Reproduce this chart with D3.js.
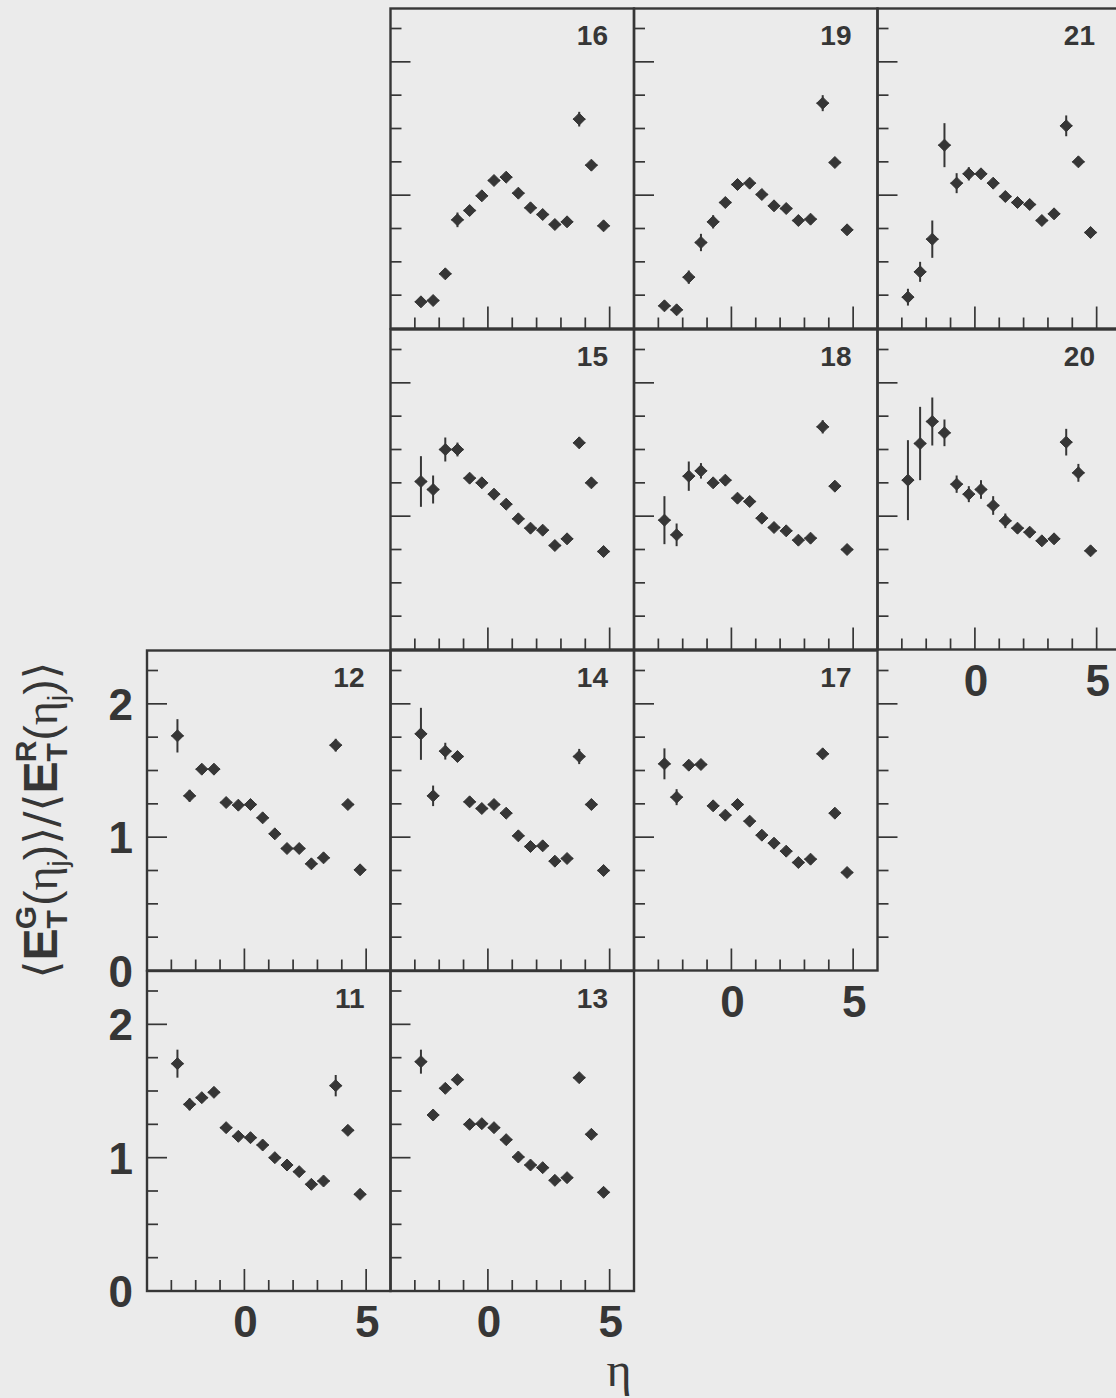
<!DOCTYPE html>
<html>
<head>
<meta charset="utf-8">
<script src="https://cdn.jsdelivr.net/npm/d3@7"></script>
<style>
  html, body { margin: 0; padding: 0; background: #ebebeb; }
  svg { display: block; }
</style>
</head>
<body>
<svg id="chart" width="1116" height="1398"></svg>
<script>
// Bin centres in pseudorapidity (bins of width 0.5)
const etaCenters = [-2.75, -2.25, -1.75, -1.25, -0.75, -0.25, 0.25, 0.75,
                    1.25, 1.75, 2.25, 2.75, 3.25, 3.75, 4.25, 4.75];
const etaHalfWidth = 0.25;

// Ratio <E_T^G>/<E_T^R> per eta bin, with vertical errors, one pair per run
const ratio11 = [1.705, 1.40, 1.45, 1.49, 1.225, 1.16, 1.15, 1.095, 1.00, 0.945, 0.895, 0.80, 0.825, 1.54, 1.205, 0.725];
const err11   = [0.105, 0.045, 0.03, 0.02, 0.015, 0.015, 0.015, 0.015, 0.015, 0.015, 0.015, 0.015, 0.015, 0.08, 0.02, 0.015];
const ratio12 = [1.76, 1.31, 1.51, 1.51, 1.26, 1.24, 1.245, 1.145, 1.025, 0.915, 0.915, 0.80, 0.845, 1.69, 1.245, 0.755];
const err12   = [0.125, 0.045, 0.03, 0.02, 0.015, 0.015, 0.015, 0.015, 0.015, 0.015, 0.015, 0.015, 0.015, 0.048, 0.02, 0.015];
const ratio13 = [1.72, 1.32, 1.52, 1.585, 1.25, 1.255, 1.225, 1.135, 1.005, 0.945, 0.925, 0.83, 0.85, 1.60, 1.175, 0.74];
const err13   = [0.09, 0.03, 0.02, 0.02, 0.015, 0.015, 0.015, 0.015, 0.015, 0.015, 0.015, 0.015, 0.015, 0.03, 0.015, 0.015];
const ratio14 = [1.775, 1.31, 1.645, 1.605, 1.265, 1.215, 1.245, 1.18, 1.01, 0.93, 0.935, 0.82, 0.84, 1.605, 1.245, 0.75];
const err14   = [0.195, 0.077, 0.063, 0.03, 0.015, 0.015, 0.015, 0.015, 0.015, 0.015, 0.015, 0.015, 0.015, 0.057, 0.02, 0.015];
const ratio15 = [1.26, 1.20, 1.50, 1.50, 1.285, 1.25, 1.165, 1.09, 0.98, 0.91, 0.895, 0.78, 0.83, 1.55, 1.25, 0.735];
const err15   = [0.19, 0.105, 0.09, 0.052, 0.02, 0.015, 0.015, 0.015, 0.015, 0.015, 0.015, 0.015, 0.015, 0.04, 0.015, 0.015];
const ratio16 = [0.20, 0.21, 0.41, 0.815, 0.885, 0.995, 1.11, 1.135, 1.015, 0.905, 0.855, 0.78, 0.80, 1.57, 1.225, 0.77];
const err16   = [0.03, 0.02, 0.03, 0.055, 0.03, 0.02, 0.02, 0.02, 0.015, 0.015, 0.015, 0.015, 0.015, 0.055, 0.02, 0.015];
const ratio17 = [1.55, 1.30, 1.54, 1.545, 1.235, 1.165, 1.245, 1.12, 1.015, 0.955, 0.895, 0.81, 0.835, 1.625, 1.18, 0.735];
const err17   = [0.116, 0.06, 0.03, 0.02, 0.015, 0.015, 0.015, 0.015, 0.015, 0.015, 0.015, 0.015, 0.015, 0.025, 0.015, 0.015];
const ratio18 = [0.97, 0.86, 1.30, 1.34, 1.25, 1.27, 1.135, 1.11, 0.985, 0.915, 0.89, 0.82, 0.835, 1.67, 1.225, 0.75];
const err18   = [0.18, 0.085, 0.11, 0.058, 0.02, 0.02, 0.015, 0.015, 0.015, 0.015, 0.015, 0.015, 0.015, 0.05, 0.02, 0.015];
const ratio19 = [0.17, 0.14, 0.385, 0.645, 0.80, 0.945, 1.08, 1.09, 1.005, 0.92, 0.90, 0.81, 0.82, 1.69, 1.245, 0.74];
const err19   = [0.025, 0.02, 0.05, 0.065, 0.05, 0.03, 0.02, 0.02, 0.015, 0.015, 0.015, 0.015, 0.015, 0.06, 0.02, 0.015];
const ratio20 = [1.27, 1.545, 1.71, 1.625, 1.24, 1.165, 1.20, 1.08, 0.965, 0.91, 0.88, 0.815, 0.83, 1.555, 1.325, 0.74];
const err20   = [0.30, 0.275, 0.18, 0.10, 0.065, 0.06, 0.07, 0.07, 0.055, 0.03, 0.02, 0.02, 0.02, 0.10, 0.067, 0.015];
const ratio21 = [0.235, 0.425, 0.67, 1.375, 1.09, 1.16, 1.16, 1.09, 0.99, 0.945, 0.93, 0.81, 0.86, 1.52, 1.25, 0.72];
const err21   = [0.063, 0.075, 0.14, 0.165, 0.075, 0.05, 0.025, 0.02, 0.015, 0.015, 0.015, 0.015, 0.015, 0.078, 0.02, 0.015];

// Axis ticks and labels
const xDomain = [-4, 6];
const yDomain = [0, 2.4];
const xMinorTicks = [-3, -2, -1, 1, 2, 3, 4];
const xMajorTicks = [0, 5];
const yMinorTicks = [0.25, 0.5, 0.75, 1.25, 1.5, 1.75, 2.25];
const yMajorTicks = [1, 2];
const xTickLabels = ["0", "5"];
const yTickLabels = ["0", "1", "2"];

// Zone arrangement: run number, grid column and grid row
const runIds   = ["16", "19", "21", "15", "18", "20", "12", "14", "17", "11", "13"];
const runCol   = [1, 2, 3, 1, 2, 3, 0, 1, 2, 0, 1];
const runRow   = [0, 0, 0, 1, 1, 1, 2, 2, 2, 3, 3];
const runRatio = [ratio16, ratio19, ratio21, ratio15, ratio18, ratio20, ratio12, ratio14, ratio17, ratio11, ratio13];
const runErr   = [err16, err19, err21, err15, err18, err20, err12, err14, err17, err11, err13];

// Panels that carry numeric axis labels
const yLabelled = ["12", "11"];
const xLabelled = ["11", "13", "17", "20"];

// ---- layout ----
const INK = "#363636";
const colLeft = [147, 390.5, 634, 877.5];
const rowTop = [8.5, 329.5, 650.5, 971];
const PW = 243.5, PH = 320;

const svg = d3.select("#chart");
svg.append("rect").attr("width", 1116).attr("height", 1398).attr("fill", "#ebebeb");

const x = d3.scaleLinear().domain(xDomain).range([0, PW]);
const y = d3.scaleLinear().domain(yDomain).range([PH, 0]);

const diamond = r => `M0,${-r}L${r},0L0,${r}L${-r},0Z`;

runIds.forEach((id, k) => {
  const g = svg.append("g")
    .attr("transform", `translate(${colLeft[runCol[k]]},${rowTop[runRow[k]]})`);

  // left axis ticks (inward)
  g.selectAll(".ymin").data(yMinorTicks).join("line")
    .attr("x1", 0).attr("x2", 11).attr("y1", d => y(d)).attr("y2", d => y(d))
    .attr("stroke", INK).attr("stroke-width", 1.7);
  g.selectAll(".ymaj").data(yMajorTicks).join("line")
    .attr("x1", 0).attr("x2", 20).attr("y1", d => y(d)).attr("y2", d => y(d))
    .attr("stroke", INK).attr("stroke-width", 1.7);
  // bottom axis ticks (inward)
  g.selectAll(".xmin").data(xMinorTicks).join("line")
    .attr("x1", d => x(d)).attr("x2", d => x(d)).attr("y1", PH).attr("y2", PH - 11)
    .attr("stroke", INK).attr("stroke-width", 1.7);
  g.selectAll(".xmaj").data(xMajorTicks).join("line")
    .attr("x1", d => x(d)).attr("x2", d => x(d)).attr("y1", PH).attr("y2", PH - 22)
    .attr("stroke", INK).attr("stroke-width", 1.7);

  // frame
  g.append("rect").attr("width", PW).attr("height", PH)
    .attr("fill", "none").attr("stroke", INK).attr("stroke-width", 2.4);

  // run number
  g.append("text").attr("x", PW - 26).attr("y", 36.5)
    .attr("text-anchor", "end")
    .attr("font-family", "Liberation Sans, Arial, sans-serif")
    .attr("font-weight", "bold").attr("font-size", 28)
    .attr("fill", INK).text(id);

  const pts = etaCenters.map((e, i) => ({ eta: e, v: runRatio[k][i], err: runErr[k][i] }));

  // horizontal bin-width bars
  g.selectAll(".hbar").data(pts).join("line")
    .attr("x1", d => x(d.eta - etaHalfWidth)).attr("x2", d => x(d.eta + etaHalfWidth))
    .attr("y1", d => y(d.v)).attr("y2", d => y(d.v))
    .attr("stroke", INK).attr("stroke-width", 1.7);
  // vertical error bars
  g.selectAll(".vbar").data(pts).join("line")
    .attr("x1", d => x(d.eta)).attr("x2", d => x(d.eta))
    .attr("y1", d => y(d.v - d.err)).attr("y2", d => y(d.v + d.err))
    .attr("stroke", INK).attr("stroke-width", 2);
  // markers
  g.selectAll(".pt").data(pts).join("path")
    .attr("transform", d => `translate(${x(d.eta)},${y(d.v)})`)
    .attr("d", diamond(6))
    .attr("fill", INK).attr("stroke", INK).attr("stroke-width", 1)
    .attr("stroke-linejoin", "round");

  // numeric x labels
  if (xLabelled.includes(id)) {
    g.selectAll(".xl").data(xMajorTicks).join("text")
      .attr("x", d => x(d) + 1).attr("y", PH + 46)
      .attr("text-anchor", "middle")
      .attr("font-family", "Liberation Sans, Arial, sans-serif")
      .attr("font-weight", "bold").attr("font-size", 44)
      .attr("fill", INK).text((d, i) => xTickLabels[i]);
  }
  // numeric y labels
  if (yLabelled.includes(id)) {
    g.selectAll(".yl").data([0, 1, 2]).join("text")
      .attr("x", -14).attr("y", d => y(d) + 16)
      .attr("text-anchor", "end")
      .attr("font-family", "Liberation Sans, Arial, sans-serif")
      .attr("font-weight", "bold").attr("font-size", 44)
      .attr("fill", INK).text((d, i) => yTickLabels[i]);
  }
});

// left-axis ticks of the empty zone beside run 17
{
  const g = svg.append("g").attr("transform", `translate(${colLeft[3]},${rowTop[2]})`);
  g.selectAll(".ymin").data(yMinorTicks).join("line")
    .attr("x1", 0).attr("x2", 11).attr("y1", d => y(d)).attr("y2", d => y(d))
    .attr("stroke", INK).attr("stroke-width", 1.7);
  g.selectAll(".ymaj").data(yMajorTicks).join("line")
    .attr("x1", 0).attr("x2", 20).attr("y1", d => y(d)).attr("y2", d => y(d))
    .attr("stroke", INK).attr("stroke-width", 1.7);
}

// x-axis title
svg.append("text").attr("x", 619).attr("y", 1386)
  .attr("text-anchor", "middle")
  .attr("font-family", "Liberation Serif, Times New Roman, serif")
  .attr("font-size", 48).attr("fill", INK).text("η");

// y-axis title: <E_T^G(eta_j)>/<E_T^R(eta_j)>
const yt = svg.append("text")
  .attr("transform", "translate(57,820) rotate(-90)")
  .attr("text-anchor", "middle")
  .attr("font-family", "Liberation Sans, Arial, sans-serif")
  .attr("fill", INK);
const piece = (txt, o = {}) => {
  const t = yt.append("tspan").text(txt)
    .attr("font-size", o.size || 44)
    .attr("font-weight", o.bold ? "bold" : "normal");
  if (o.family) t.attr("font-family", o.family);
  if (o.dx != null) t.attr("dx", o.dx);
  if (o.dy != null) t.attr("dy", o.dy);
  return t;
};
const SERIF = "Liberation Serif, Times New Roman, serif";
piece("⟨", { size: 46, family: "DejaVu Sans" });
piece("E", { bold: true, size: 48 });
piece("T", { bold: true, size: 30, dy: 10 });
piece("G", { bold: true, size: 30, dx: -19, dy: -31 });
piece("(", { size: 46, dy: 21 });
piece("η", { size: 46, family: SERIF });
piece("j", { size: 28, dy: 10 });
piece(")", { size: 46, dy: -10 });
piece("⟩/⟨", { size: 46, family: "DejaVu Sans" });
piece("E", { bold: true, size: 48 });
piece("T", { bold: true, size: 30, dy: 10 });
piece("R", { bold: true, size: 30, dx: -19, dy: -31 });
piece("(", { size: 46, dy: 21 });
piece("η", { size: 46, family: SERIF });
piece("j", { size: 28, dy: 10 });
piece(")", { size: 46, dy: -10 });
piece("⟩", { size: 46, family: "DejaVu Sans" });
</script>
</body>
</html>
